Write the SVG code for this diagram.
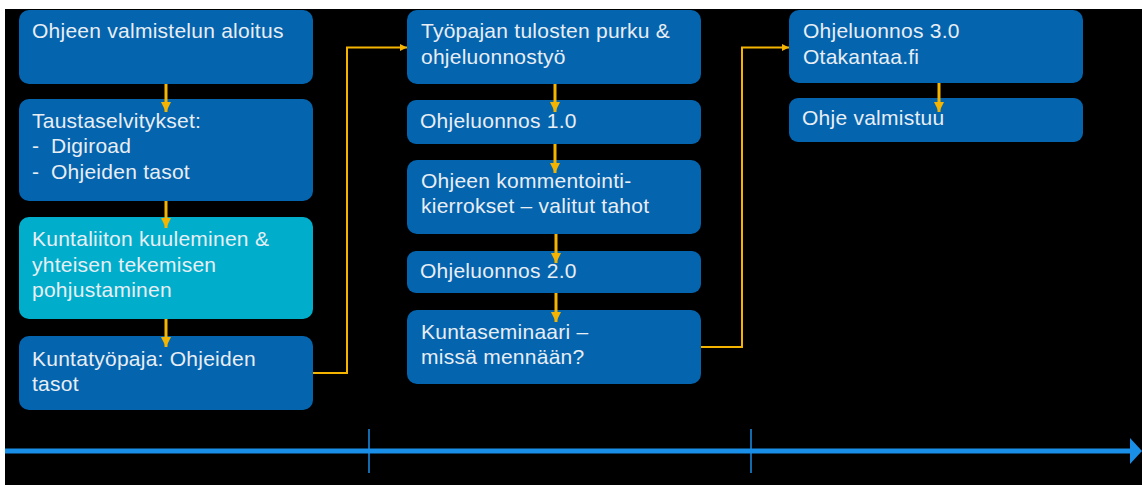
<svg xmlns="http://www.w3.org/2000/svg" width="1142" height="485" viewBox="0 0 1142 485">
<defs>
<style>
.box{fill:#0564AE}
.cyan{fill:#00AECB}
.t{font-family:"Liberation Sans","Open Sans",sans-serif;font-size:21px;letter-spacing:0.25px;fill:#E8EEF4}
.c{stroke:#F5B400;stroke-width:2;fill:none}
.cv{stroke:#F5B400;stroke-width:3;fill:none}
</style>
<marker id="ah" viewBox="0 0 10 10" refX="10" refY="5" markerWidth="10" markerHeight="10" markerUnits="userSpaceOnUse" orient="auto"><path d="M0,0L10,5L0,10Z" fill="#F5B400"/></marker>
<marker id="as" viewBox="0 0 10 10" refX="10" refY="5" markerWidth="7" markerHeight="7" markerUnits="userSpaceOnUse" orient="auto"><path d="M0,0L10,5L0,10Z" fill="#F5B400"/></marker>
</defs>
<rect x="0" y="0" width="1142" height="485" fill="#FFFFFF"/>
<rect x="5" y="9" width="1137" height="476" fill="#000000"/>
<g id="n1"><rect class="box" x="19" y="10" width="294" height="74" rx="10"/><text class="t" x="32" y="38">Ohjeen valmistelun aloitus</text></g>
<g id="n2"><rect class="box" x="19" y="99" width="294" height="102" rx="10"/><text class="t" x="32" y="128">Taustaselvitykset:</text><text class="t" y="153"><tspan x="32">-</tspan><tspan x="51">Digiroad</tspan></text><text class="t" y="179"><tspan x="32">-</tspan><tspan x="51">Ohjeiden tasot</tspan></text></g>
<g id="n3"><rect class="cyan" x="19" y="217" width="294" height="102" rx="10"/><text class="t" x="32" y="246">Kuntaliiton kuuleminen &amp;</text><text class="t" x="32" y="272">yhteisen tekemisen</text><text class="t" x="32" y="297">pohjustaminen</text></g>
<g id="n4"><rect class="box" x="19" y="336" width="294" height="74" rx="10"/><text class="t" x="32" y="366">Kuntatyöpaja: Ohjeiden</text><text class="t" x="32" y="391">tasot</text></g>
<g id="n5"><rect class="box" x="407" y="10" width="294" height="74" rx="10"/><text class="t" x="421" y="38">Työpajan tulosten purku &amp;</text><text class="t" x="421" y="64">ohjeluonnostyö</text></g>
<g id="n6"><rect class="box" x="407" y="100" width="294" height="44" rx="9"/><text class="t" x="420" y="128">Ohjeluonnos 1.0</text></g>
<g id="n7"><rect class="box" x="407" y="160" width="294" height="74" rx="10"/><text class="t" x="421" y="188">Ohjeen kommentointi-</text><text class="t" x="421" y="213">kierrokset – valitut tahot</text></g>
<g id="n8"><rect class="box" x="407" y="251" width="294" height="42" rx="9"/><text class="t" x="420" y="278">Ohjeluonnos 2.0</text></g>
<g id="n9"><rect class="box" x="407" y="310" width="294" height="74" rx="10"/><text class="t" x="421" y="339">Kuntaseminaari –</text><text class="t" x="421" y="364">missä mennään?</text></g>
<g id="n10"><rect class="box" x="789" y="10" width="294" height="73" rx="10"/><text class="t" x="803" y="38">Ohjeluonnos 3.0</text><text class="t" x="803" y="64">Otakantaa.fi</text></g>
<g id="n11"><rect class="box" x="789" y="98" width="294" height="44" rx="9"/><text class="t" x="802" y="125">Ohje valmistuu</text></g>
<g id="connectors">
<path class="cv" d="M166,84V112" marker-end="url(#ah)"/>
<path class="cv" d="M166,201V228" marker-end="url(#ah)"/>
<path class="cv" d="M166,319V347" marker-end="url(#ah)"/>
<path class="cv" d="M555,84V112" marker-end="url(#ah)"/>
<path class="cv" d="M555,144V173" marker-end="url(#ah)"/>
<path class="cv" d="M556,234V263" marker-end="url(#ah)"/>
<path class="cv" d="M556,293V322" marker-end="url(#ah)"/>
<path class="cv" d="M939,83V112" marker-end="url(#ah)"/>
<path class="c" d="M313,373H347V47.5H407" marker-end="url(#as)"/>
<path class="c" d="M701,347H742V47.5H789" marker-end="url(#as)"/>
</g>
<g id="timeline">
<path d="M5,451H1132" stroke="#1A8FE8" stroke-width="5" fill="none"/>
<path d="M1130,438L1142,451L1130,464Z" fill="#1A8FE8"/>
<path d="M369,429V473M751,429V473" stroke="#1A8FE8" stroke-width="1.5"/>
</g>
</svg>
